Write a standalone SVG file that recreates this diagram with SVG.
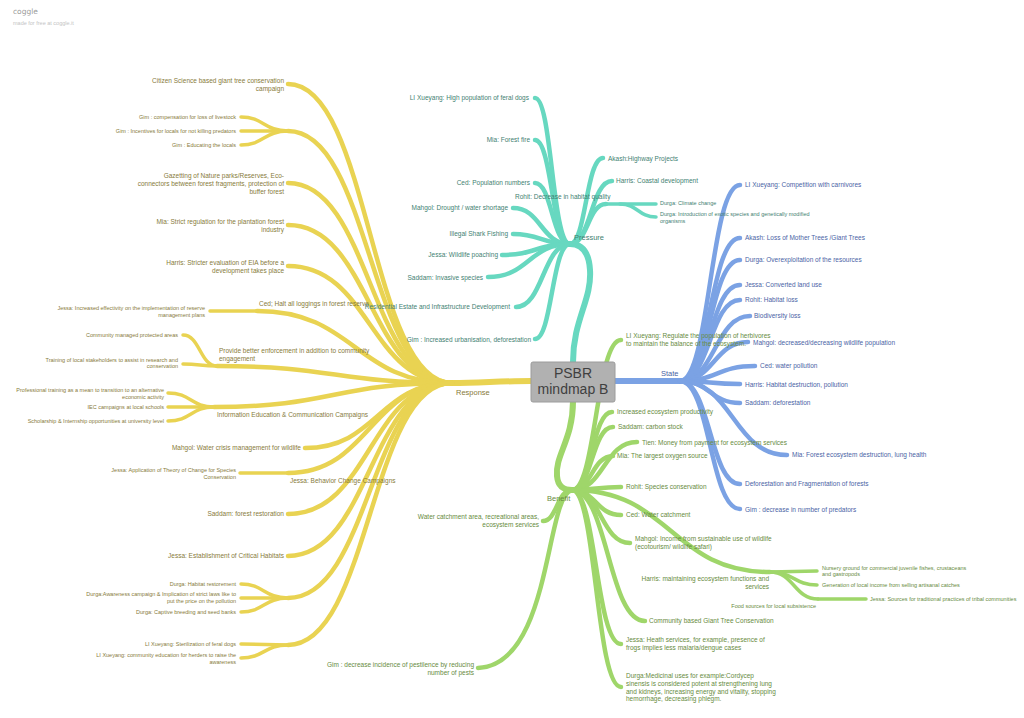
<svg xmlns="http://www.w3.org/2000/svg" width="1024" height="718" viewBox="0 0 1024 718">
<style>
path{fill:none;stroke-linecap:round}
.y{stroke:#e9d352}.p{stroke:#67d8c0}.b{stroke:#7ba2e4}.g{stroke:#9fd66a}
.w1{stroke-width:6}.w2{stroke-width:4.5}.w3{stroke-width:3.5}
text{font-family:"Liberation Sans",Arial,sans-serif;font-size:6.5px}
.s{font-size:5.5px}.L{font-size:7.5px}.e{text-anchor:end}
.cr{fill:#877b3b}.cp{fill:#3f7f72}.cs{fill:#4a63a5}.cb{fill:#678b3e}
</style>
<rect width="1024" height="718" fill="#fff"/>
<g id="header">
<text x="13" y="14" style="font-family:'DejaVu Sans',sans-serif;font-size:7.5px;fill:#9a9a9a">coggle</text>
<text x="13" y="25" style="font-size:5.5px;fill:#c4c4c4">made for free at coggle.it</text>
</g>
<g id="connectors">
<!-- Response -->
<path class="y w1" d="M531,381 C500,381 480,383 452,383"/>
<path class="y w2" d="M452,383 C370,383 370,84 288,84"/>
<path class="y w2" d="M452,383 C370,383 370,131 288,131"/>
<path class="y w2" d="M452,383 C370,383 370,183 288,183"/>
<path class="y w2" d="M452,383 C370,383 370,225 288,225"/>
<path class="y w2" d="M452,383 C370,383 370,266 288,266"/>
<path class="y w2" d="M452,383 C355,383 355,311 257,311"/>
<path class="y w2" d="M452,383 C335,383 335,366 217,366"/>
<path class="y w2" d="M452,383 C333,383 333,407 214,407"/>
<path class="y w2" d="M452,383 C378,383 378,448 305,448"/>
<path class="y w2" d="M452,383 C370,383 370,473 288,473"/>
<path class="y w2" d="M452,383 C370,383 370,514 288,514"/>
<path class="y w2" d="M452,383 C370,383 370,556 288,556"/>
<path class="y w2" d="M452,383 C370,383 370,598 288,598"/>
<path class="y w2" d="M452,383 C370,383 370,645 288,645"/>
<path class="y w3" d="M288,131 C264,131 264,117 241,117"/>
<path class="y w3" d="M288,131 L241,131"/>
<path class="y w3" d="M288,131 C264,131 264,145 241,145"/>
<path class="y w3" d="M257,311 L210,311"/>
<path class="y w3" d="M217,366 C200,366 200,335 183,335"/>
<path class="y w3" d="M217,366 C200,366 200,364 183,364"/>
<path class="y w3" d="M214,407 C191,407 191,393 168,393"/>
<path class="y w3" d="M214,407 L168,407"/>
<path class="y w3" d="M214,407 C191,407 191,421 168,421"/>
<path class="y w3" d="M288,473 L240,473"/>
<path class="y w3" d="M288,598 C264,598 264,584 241,584"/>
<path class="y w3" d="M288,598 L241,598"/>
<path class="y w3" d="M288,598 C264,598 264,612 241,612"/>
<path class="y w3" d="M288,645 L241,644"/>
<path class="y w3" d="M288,645 C264,645 264,658 241,658"/>
<!-- Pressure -->
<path class="p w1" d="M573,362 C573,320 592,300 590,270 C589,252 582,244 570,244"/>
<path class="p w2" d="M570,244 C552,244 552,98 535,98"/>
<path class="p w2" d="M570,244 C552,244 552,140 535,140"/>
<path class="p w2" d="M570,244 C552,244 552,183 535,183"/>
<path class="p w2" d="M570,244 C541,244 541,208 513,208"/>
<path class="p w2" d="M570,244 C541,244 541,234 513,234"/>
<path class="p w2" d="M570,244 C536,244 536,255 502,255"/>
<path class="p w2" d="M570,244 C529,244 529,277 488,277"/>
<path class="p w2" d="M570,244 C543,244 543,307 516,307"/>
<path class="p w2" d="M570,244 C552,244 552,339 535,339"/>
<path class="p w2" d="M570,244 C586,244 586,158 603,158"/>
<path class="p w2" d="M570,244 C591,244 591,181 612,181"/>
<path class="p w2" d="M570,244 C588,244 588,204 606,204"/>
<path class="p w3" d="M606,204 L656,204"/>
<path class="p w3" d="M620,204 C638,204 638,217 656,217"/>
<!-- State -->
<path class="b w1" d="M615,381 L680,381"/>
<path class="b w2" d="M680,381 C710,381 710,185 740,185"/>
<path class="b w2" d="M680,381 C710,381 710,238 740,238"/>
<path class="b w2" d="M680,381 C710,381 710,260 740,260"/>
<path class="b w2" d="M680,381 C710,381 710,285 740,285"/>
<path class="b w2" d="M680,381 C710,381 710,300 740,300"/>
<path class="b w2" d="M680,381 C715,381 715,316 750,316"/>
<path class="b w2" d="M680,381 C714,381 714,342 748,342"/>
<path class="b w2" d="M680,381 C717,381 717,366 755,366"/>
<path class="b w2" d="M680,381 C710,381 710,384 740,384"/>
<path class="b w2" d="M680,381 C710,381 710,403 740,403"/>
<path class="b w2" d="M680,381 C733,381 733,455 787,455"/>
<path class="b w2" d="M680,381 C710,381 710,484 740,484"/>
<path class="b w2" d="M680,381 C710,381 710,509 740,509"/>
<!-- Benefit -->
<path class="g w1" d="M573,401 C573,440 555,455 557,476 C558,487 564,490 572,490"/>
<path class="g w2" d="M572,490 C596,490 596,340 621,340"/>
<path class="g w2" d="M572,490 C592,490 592,412 612,412"/>
<path class="g w2" d="M572,490 C592,490 592,427 613,427"/>
<path class="g w2" d="M572,490 C604,490 604,442 637,442"/>
<path class="g w2" d="M572,490 C592,490 592,456 613,456"/>
<path class="g w2" d="M572,490 C596,490 596,487 621,487"/>
<path class="g w2" d="M572,490 C596,490 596,515 621,515"/>
<path class="g w2" d="M572,490 C601,490 601,543 630,543"/>
<path class="g w2" d="M572,490 C671,490 671,572 770,572"/>
<path class="g w2" d="M572,490 C608,490 608,621 645,621"/>
<path class="g w2" d="M572,490 C596,490 596,644 621,644"/>
<path class="g w2" d="M572,490 C596,490 596,687 621,687"/>
<path class="g w2" d="M572,490 C557,490 557,521 543,521"/>
<path class="g w2" d="M572,490 C545,495 552,665 478,668"/>
<path class="g w3" d="M770,572 L817,571"/>
<path class="g w3" d="M770,572 C794,572 794,585 817,585"/>
<path class="g w3" d="M770,572 C794,572 794,599 818,599"/>
<path class="g w3" d="M818,599 L866,599"/>
</g>
<g id="root">
<rect x="531" y="362" width="84" height="40" rx="2" fill="#b1b1b1" stroke="#9c9c9c" stroke-width="1"/>
<text x="573" y="378" text-anchor="middle" style="font-size:14px;fill:#404040">PSBR</text>
<text x="573" y="394" text-anchor="middle" style="font-size:14px;fill:#404040">mindmap B</text>
</g>
<g id="response" class="cr">
<text class="L cr" x="456" y="395">Response</text>
<text class="e cr" x="284" y="83.3">Citizen Science based giant tree conservation<tspan x="284" dy="8">campaign</tspan></text>
<text class="e s cr" x="236" y="119">Gim : compensation for loss of livestock</text>
<text class="e s cr" x="236" y="133">Gim : Incentives for locals for not killing predators</text>
<text class="e s cr" x="236" y="147">Gim : Educating the locals</text>
<text class="e cr" x="284" y="177.5">Gazetting of Nature parks/Reserves, Eco-<tspan x="284" dy="8">connectors between forest fragments, protection of</tspan><tspan x="284" dy="8">buffer forest</tspan></text>
<text class="e cr" x="284" y="223.5">Mia: Strict regulation for the plantation forest<tspan x="284" dy="8">industry</tspan></text>
<text class="e cr" x="284" y="264.5">Harris: Stricter evaluation of EIA before a<tspan x="284" dy="8">development takes place</tspan></text>
<text class="cr" x="259" y="305.5">Ced; Halt all loggings in forest reserve</text>
<text class="e s cr" x="205" y="310">Jessa: Increased effectivity on the implementation of reserve<tspan x="205" dy="7">management plans</tspan></text>
<text class="cr" x="219" y="352.5">Provide better enforcement in addition to community<tspan x="219" dy="8">engagement</tspan></text>
<text class="e s cr" x="178" y="337.3">Community managed protected areas</text>
<text class="e s cr" x="178" y="361.7">Training of local stakeholders to assist in research and<tspan x="178" dy="6.7">conservation</tspan></text>
<text class="cr" x="217" y="417.3">Information Education &amp; Communication Campaigns</text>
<text class="e s cr" x="164" y="392">Professional training as a mean to transition to an alternative<tspan x="164" dy="6.7">economic activity</tspan></text>
<text class="e s cr" x="164" y="409.3">IEC campaigns at local schools</text>
<text class="e s cr" x="164" y="423">Scholarship &amp; Internship opportunities at university level</text>
<text class="e cr" x="301" y="450.3">Mahgol: Water crisis management for wildlife</text>
<text class="e s cr" x="236" y="472">Jessa: Application of Theory of Change for Species<tspan x="236" dy="6.7">Conservation</tspan></text>
<text class="cr" x="290" y="483.3">Jessa: Behavior Change Campaigns</text>
<text class="e cr" x="284" y="516.3">Saddam: forest restoration</text>
<text class="e cr" x="284" y="558.3">Jessa: Establishment of Critical Habitats</text>
<text class="e s cr" x="236" y="585.7">Durga: Habitat restorement</text>
<text class="e s cr" x="236" y="596.3">Durga:Awareness campaign &amp; Implication of strict laws like to<tspan x="236" dy="6.4">put the price on the pollution</tspan></text>
<text class="e s cr" x="236" y="613.7">Durga: Captive breeding and seed banks</text>
<text class="e s cr" x="236" y="646">LI Xueyang: Sterilization of feral dogs</text>
<text class="e s cr" x="236" y="657">LI Xueyang: community education for herders to raise the<tspan x="236" dy="6.7">awareness</tspan></text>
</g>
<g id="pressure">
<text class="L cp" x="574" y="239.5">Pressure</text>
<text class="e cp" x="529" y="100.3">LI Xueyang: High population of feral dogs</text>
<text class="e cp" x="530" y="141.6">Mia: Forest fire</text>
<text class="e cp" x="530" y="185">Ced: Population numbers</text>
<text class="e cp" x="508" y="210">Mahgol: Drought / water shortage</text>
<text class="e cp" x="508" y="236.3">Illegal Shark Fishing</text>
<text class="e cp" x="498" y="257.3">Jessa: Wildlife poaching</text>
<text class="e cp" x="483" y="280">Saddam: Invasive species</text>
<text class="e cp" x="510" y="309">Residential Estate and Infrastructure Development</text>
<text class="e cp" x="531" y="341.6">Gim : Increased urbanisation, deforestation</text>
<text class="cp" x="608" y="161.3">Akash:Highway Projects</text>
<text class="cp" x="616" y="183">Harris: Coastal development</text>
<text class="cp" x="515" y="198.6">Rohit: Decrease in habitat quality</text>
<text class="s cp" x="660" y="205.3">Durga: Climate change</text>
<text class="s cp" x="660" y="216">Durga: Introduction of exotic species and genetically modified<tspan x="660" dy="6.7">organisms</tspan></text>
</g>
<g id="state">
<text class="L cs" x="661" y="375.7">State</text>
<text class="cs" x="745" y="187.3">LI Xueyang: Competition with carnivores</text>
<text class="cs" x="745" y="240.3">Akash: Loss of Mother Trees /Giant Trees</text>
<text class="cs" x="745" y="262">Durga: Overexploitation of the resources</text>
<text class="cs" x="745" y="287.3">Jessa: Converted land use</text>
<text class="cs" x="745" y="302.3">Rohit: Habitat loss</text>
<text class="cs" x="754" y="318">Biodiversity loss</text>
<text class="cs" x="753" y="344.6">Mahgol: decreased/decreasing wildlife population</text>
<text class="cs" x="760" y="368">Ced: water pollution</text>
<text class="cs" x="745" y="386.6">Harris: Habitat destruction, pollution</text>
<text class="cs" x="745" y="405.3">Saddam: deforestation</text>
<text class="cs" x="792" y="456.6">Mia: Forest ecosystem destruction, lung health</text>
<text class="cs" x="745" y="486.3">Deforestation and Fragmentation of forests</text>
<text class="cs" x="745" y="511.6">Gim : decrease in number of predators</text>
</g>
<g id="benefit">
<text class="L cb" x="547" y="500.7">Benefit</text>
<text class="cb" x="626" y="338.3">LI Xueyang: Regulate the population of herbivores<tspan x="626" dy="8">to maintain the balance of the ecosystem.</tspan></text>
<text class="cb" x="617" y="414.3">Increased ecosystem productivity</text>
<text class="cb" x="618" y="429.3">Saddam: carbon stock</text>
<text class="cb" x="642" y="444.6">Tien: Money from payment for ecosystem services</text>
<text class="cb" x="617" y="458">Mia: The largest oxygen source</text>
<text class="cb" x="626" y="489.3">Rohit: Species conservation</text>
<text class="cb" x="626" y="517">Ced: Water catchment</text>
<text class="cb" x="635" y="541.3">Mahgol: Income from sustainable use of wildlife<tspan x="635" dy="7.7">(ecotourism/ wildlife safari)</tspan></text>
<text class="e cb" x="769" y="581.3">Harris: maintaining ecosystem functions and<tspan x="769" dy="8">services</tspan></text>
<text class="s cb" x="822" y="569.7">Nursery ground for commercial juvenile fishes, crustaceans<tspan x="822" dy="6.6">and gastropods</tspan></text>
<text class="s cb" x="822" y="587">Generation of local income from selling artisanal catches</text>
<text class="e s cb" x="816" y="608.3">Food sources for local subsistence</text>
<text class="s cb" x="870" y="601.3">Jessa: Sources for traditional practices of tribal communities</text>
<text class="cb" x="649" y="623.3">Community based Giant Tree Conservation</text>
<text class="cb" x="626" y="642.3">Jessa: Heath services, for example, presence of<tspan x="626" dy="7.7">frogs implies less malaria/dengue cases</tspan></text>
<text class="cb" x="626" y="678">Durga:Medicinal uses for example:Cordycep<tspan x="626" dy="7.8">sinensis is considered potent at strengthening lung</tspan><tspan x="626" dy="7.8">and kidneys, increasing energy and vitality, stopping</tspan><tspan x="626" dy="7.8">hemorrhage, decreasing phlegm.</tspan></text>
<text class="e cb" x="539" y="519">Water catchment area, recreational areas,<tspan x="539" dy="7.7">ecosystem services</tspan></text>
<text class="e cb" x="474" y="667">Gim : decrease incidence of pestilence by reducing<tspan x="474" dy="7.7">number of pests</tspan></text>
</g>
</svg>
